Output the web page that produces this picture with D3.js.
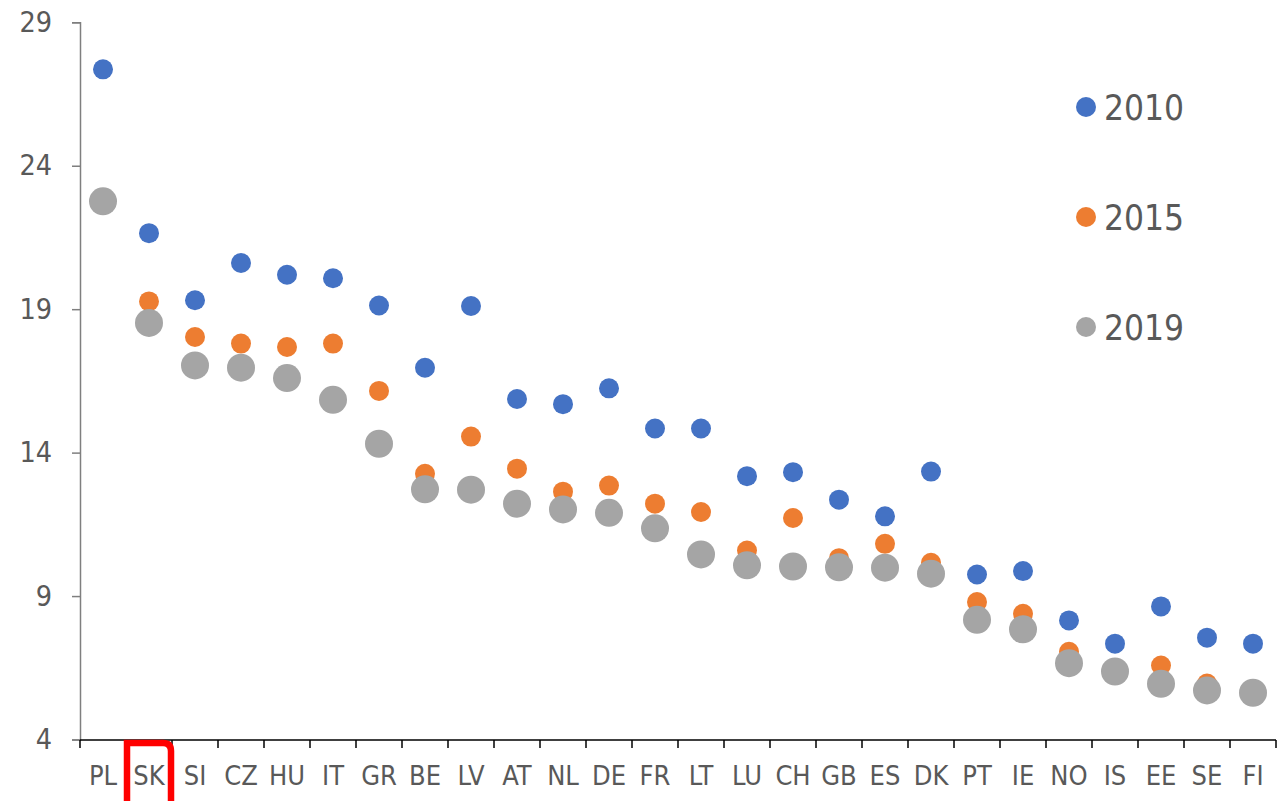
<!DOCTYPE html>
<html><head><meta charset="utf-8">
<script src="https://cdn.jsdelivr.net/npm/d3@7"></script>
<style>
body{margin:0;background:#fff;}
text{font-family:"DejaVu Sans Condensed","DejaVu Sans",sans-serif;font-stretch:condensed;fill:#595959;}
</style></head><body>
<svg id="c" width="1288" height="801"></svg>
<script>
const categories = ["PL","SK","SI","CZ","HU","IT","GR","BE","LV","AT","NL","DE","FR","LT","LU","CH","GB","ES","DK","PT","IE","NO","IS","EE","SE","FI"];
const v2010 = [27.36,21.65,19.31,20.61,20.2,20.08,19.13,16.96,19.11,15.87,15.69,16.24,14.84,14.84,13.18,13.32,12.36,11.78,13.34,9.75,9.87,8.15,7.34,8.64,7.55,7.34];
const v2015 = [22.8,19.27,18.03,17.8,17.68,17.8,16.15,13.26,14.56,13.44,12.64,12.85,12.22,11.93,10.59,11.72,10.32,10.82,10.16,8.79,8.38,7.06,6.4,6.58,5.95,5.6];
const v2019 = [22.76,18.52,17.04,16.96,16.6,15.84,14.31,12.72,12.71,12.22,12.02,11.9,11.36,10.45,10.07,10.03,10.0,9.99,9.78,8.17,7.84,6.66,6.37,5.94,5.71,5.63];
const yTicks = [4,9,14,19,24,29];
const seriesNames = ["2010","2015","2019"];
const seriesColors = ["#4472C4","#ED7D31","#A5A5A5"];
const seriesRadius = [10,10,14];
const highlighted = "SK";

const svg = d3.select("#c");
const x = d3.scaleBand().domain(categories).range([80,1276]);
const y = d3.scaleLinear().domain([4,29]).range([739.5,22.3]);

// y axis
const ya = svg.append("g").attr("transform","translate(80,0)")
  .call(d3.axisLeft(y).tickValues(yTicks).tickSize(8).tickPadding(20));
ya.select(".domain").attr("stroke","#7f7f7f").attr("stroke-width",1.5);
ya.selectAll(".tick line").attr("stroke","#7f7f7f").attr("stroke-width",1.5);
ya.selectAll(".tick text").attr("font-size",28.5).attr("font-family",null).attr("fill","#595959");

// x axis
const xa = svg.append("g").attr("transform","translate(0,740)")
  .call(d3.axisBottom(x).tickSize(0).tickPadding(26));
xa.select(".domain").remove();
xa.selectAll(".tick text").attr("font-size",27).attr("font-family",null).attr("fill","#595959");
svg.append("line").attr("x1",x.range()[0]).attr("x2",x.range()[1]).attr("y1",740).attr("y2",740)
  .attr("stroke","#000").attr("stroke-width",1.5);
const bounds = categories.map(c=>x(c)).concat([x.range()[1]]);
svg.append("g").selectAll("line").data(bounds).join("line")
  .attr("x1",d=>d).attr("x2",d=>d).attr("y1",740).attr("y2",748)
  .attr("stroke","#000").attr("stroke-width",1.5);

// points
const series = [v2010,v2015,v2019];
series.forEach((vals,i)=>{
  svg.append("g").selectAll("circle").data(vals).join("circle")
    .attr("cx",(d,j)=>x(categories[j])+x.bandwidth()/2)
    .attr("cy",d=>y(d))
    .attr("r",seriesRadius[i])
    .attr("fill",seriesColors[i]);
});

// legend
const lg = svg.append("g");
seriesNames.forEach((n,i)=>{
  const cy = 107 + i*110;
  lg.append("circle").attr("cx",1086).attr("cy",cy).attr("r",10).attr("fill",seriesColors[i]);
  lg.append("text").attr("x",1104).attr("y",cy).attr("dy","0.36em").attr("font-size",35).text(n);
});

// highlight box around SK label
const hx0 = x(highlighted)+1, hx1 = x(highlighted)+x.bandwidth()-1;
svg.append("path")
  .attr("d",`M${hx0},805 V743 H${hx1-8} Q${hx1},743 ${hx1},751 V805`)
  .attr("fill","none").attr("stroke","#FF0000").attr("stroke-width",6.5);
</script>
</body></html>
